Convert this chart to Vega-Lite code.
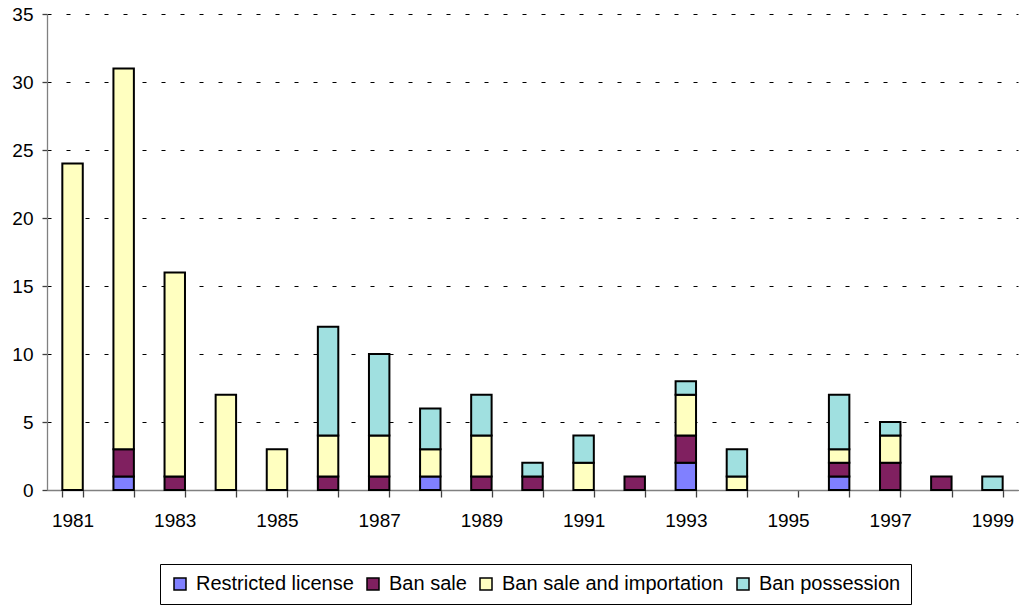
{
  "$schema": "https://vega.github.io/schema/vega-lite/v6.json",
  "autosize": "none",
  "width": 971,
  "height": 476,
  "padding": {"left": 47, "top": 14, "right": 6, "bottom": 118},
  "background": "white",
  "config": {
    "font": "Liberation Sans",
    "view": {"stroke": null}
  },
  "data": {
    "values": [
      {"year": 1981, "type": "Ban sale and importation", "count": 24},
      {"year": 1982, "type": "Restricted license", "count": 1},
      {"year": 1982, "type": "Ban sale", "count": 2},
      {"year": 1982, "type": "Ban sale and importation", "count": 28},
      {"year": 1983, "type": "Ban sale", "count": 1},
      {"year": 1983, "type": "Ban sale and importation", "count": 15},
      {"year": 1984, "type": "Ban sale and importation", "count": 7},
      {"year": 1985, "type": "Ban sale and importation", "count": 3},
      {"year": 1986, "type": "Ban sale", "count": 1},
      {"year": 1986, "type": "Ban sale and importation", "count": 3},
      {"year": 1986, "type": "Ban possession", "count": 8},
      {"year": 1987, "type": "Ban sale", "count": 1},
      {"year": 1987, "type": "Ban sale and importation", "count": 3},
      {"year": 1987, "type": "Ban possession", "count": 6},
      {"year": 1988, "type": "Restricted license", "count": 1},
      {"year": 1988, "type": "Ban sale and importation", "count": 2},
      {"year": 1988, "type": "Ban possession", "count": 3},
      {"year": 1989, "type": "Ban sale", "count": 1},
      {"year": 1989, "type": "Ban sale and importation", "count": 3},
      {"year": 1989, "type": "Ban possession", "count": 3},
      {"year": 1990, "type": "Ban sale", "count": 1},
      {"year": 1990, "type": "Ban possession", "count": 1},
      {"year": 1991, "type": "Ban sale and importation", "count": 2},
      {"year": 1991, "type": "Ban possession", "count": 2},
      {"year": 1992, "type": "Ban sale", "count": 1},
      {"year": 1993, "type": "Restricted license", "count": 2},
      {"year": 1993, "type": "Ban sale", "count": 2},
      {"year": 1993, "type": "Ban sale and importation", "count": 3},
      {"year": 1993, "type": "Ban possession", "count": 1},
      {"year": 1994, "type": "Ban sale and importation", "count": 1},
      {"year": 1994, "type": "Ban possession", "count": 2},
      {"year": 1996, "type": "Restricted license", "count": 1},
      {"year": 1996, "type": "Ban sale", "count": 1},
      {"year": 1996, "type": "Ban sale and importation", "count": 1},
      {"year": 1996, "type": "Ban possession", "count": 4},
      {"year": 1997, "type": "Ban sale", "count": 2},
      {"year": 1997, "type": "Ban sale and importation", "count": 2},
      {"year": 1997, "type": "Ban possession", "count": 1},
      {"year": 1998, "type": "Ban sale", "count": 1},
      {"year": 1999, "type": "Ban possession", "count": 1}
    ]
  },
  "transform": [
    {"calculate": "indexof(['Restricted license', 'Ban sale', 'Ban sale and importation', 'Ban possession'], datum.type)", "as": "stackRank"}
  ],
  "mark": {"type": "bar", "stroke": "black", "strokeWidth": 2},
  "encoding": {
    "x": {
      "field": "year",
      "type": "ordinal",
      "scale": {
        "domain": [1981,1982,1983,1984,1985,1986,1987,1988,1989,1990,1991,1992,1993,1994,1995,1996,1997,1998,1999],
        "paddingInner": 0.6,
        "paddingOuter": 0.3
      },
      "axis": {
        "title": null,
        "labelAngle": 0,
        "labelFontSize": 19,
        "labelColor": "black",
        "labelPadding": 14,
        "labelExpr": "datum.value % 2 == 1 ? datum.label : ''",
        "tickBand": "extent",
        "tickSize": 7,
        "tickColor": "#404040",
        "tickWidth": 1.3,
        "domainColor": "#808080",
        "domainWidth": 1.3
      }
    },
    "y": {
      "field": "count",
      "type": "quantitative",
      "aggregate": "sum",
      "stack": "zero",
      "scale": {"domain": [0, 35], "nice": false},
      "axis": {
        "title": null,
        "values": [0,5,10,15,20,25,30,35],
        "labelFontSize": 19,
        "labelColor": "black",
        "labelPadding": 9,
        "tickSize": 5,
        "tickColor": "#404040",
        "tickWidth": 1.3,
        "domainColor": "#808080",
        "domainWidth": 1.3,
        "grid": true,
        "gridColor": "black",
        "gridDash": [4, 15],
        "gridWidth": 1.2
      }
    },
    "color": {
      "field": "type",
      "type": "nominal",
      "sort": ["Restricted license", "Ban sale", "Ban sale and importation", "Ban possession"],
      "scale": {
        "domain": ["Restricted license", "Ban sale", "Ban sale and importation", "Ban possession"],
        "range": ["#8080FF", "#802060", "#FFFFC0", "#A0E0E0"]
      },
      "legend": {
        "title": null,
        "orient": "none",
        "direction": "horizontal",
        "legendX": 113,
        "legendY": 550,
        "columns": 4,
        "columnPadding": 9,
        "symbolType": "square",
        "symbolSize": 144,
        "symbolStrokeColor": "black",
        "symbolStrokeWidth": 1.5,
        "symbolOffset": 0,
        "labelFontSize": 20,
        "labelLimit": 400,
        "labelColor": "black",
        "labelOffset": 6,
        "padding": 10,
        "strokeColor": "black",
        "fillColor": "white"
      }
    },
    "order": {"field": "stackRank", "type": "quantitative", "sort": "ascending"}
  }
}
